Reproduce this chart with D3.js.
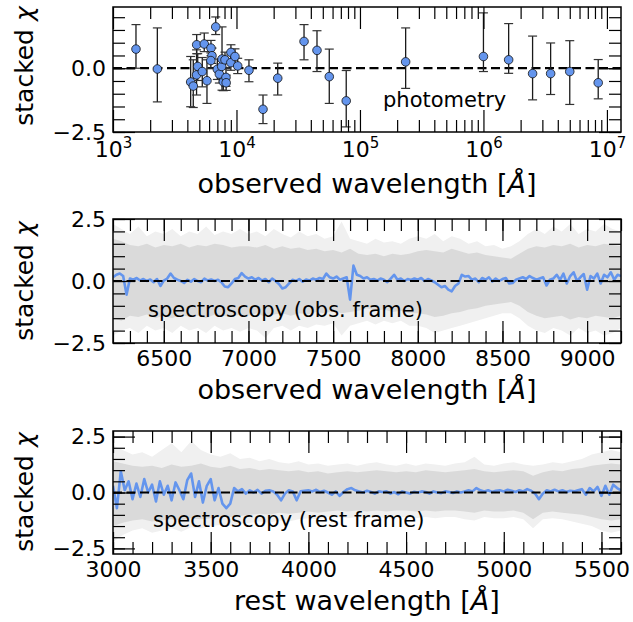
<!DOCTYPE html>
<html>
<head>
<meta charset="utf-8">
<script src="https://cdn.jsdelivr.net/npm/d3@7"></script>
<style>
body { margin: 0; background: #fff; }
text { font-family: "DejaVu Sans", sans-serif; }
</style>
</head>
<body>
<div id="chart"></div>
<script>
// photometry: wavelength [A], stacked chi, lower / upper error
var photWave = [1535, 2286, 4256, 4467, 4761, 4750, 4853, 5284, 5483, 5768, 6216, 6334, 6200, 6792, 6998, 7266, 7590, 7636, 7822, 8072, 8222, 8250, 9018, 9000, 9720, 10230, 12620, 16400, 21580, 35240, 44870, 56420, 77400, 234400, 1.0e6, 1.6e6, 2.5e6, 3.5e6, 5.0e6, 8.5e6];
var photChi = [0.75, -0.03, -0.54, -0.70, 0.92, -0.26, 0.07, -0.13, 0.95, -0.49, 0.79, 0.49, 0.30, 1.62, -0.04, -0.23, 0.07, 0.36, -0.53, 0.33, -0.36, -0.57, 0.62, 0.22, 0.46, 0.09, -0.08, -1.61, -0.39, 1.05, 0.70, -0.33, -1.28, 0.25, 0.46, 0.33, -0.21, -0.21, -0.13, -0.57];
var photErrLo = [0.75, 1.29, 0.97, 0.84, 0.35, 0.79, 0.55, 0.6, 0.3, 0.89, 0.3, 0.3, 0.3, 0.3, 0.4, 0.35, 0.3, 1.22, 0.35, 0.3, 0.35, 0.3, 0.42, 0.3, 0.3, 0.3, 0.45, 0.56, 0.66, 0.72, 0.83, 1.05, 1.02, 1.04, 0.59, 0.53, 1.03, 0.82, 1.29, 0.63];
var photErrHi = [0.96, 1.61, 1.0, 1.03, 0.4, 0.98, 0.5, 0.55, 0.43, 0.82, 0.3, 0.3, 0.3, 0.39, 0.4, 0.3, 0.3, 1.26, 0.3, 0.3, 0.35, 0.3, 0.3, 0.3, 0.3, 0.3, 0.41, 0.56, 0.59, 0.66, 0.77, 1.08, 1.19, 1.33, 1.71, 1.42, 1.47, 1.2, 1.21, 0.91];

// observed-frame spectrum, 20 A grid from 6200 to 9200
var obsWave = d3.range(6200, 9201, 20);
var obsChi = [
  0.15, 0.25, 0.3, 0.2, -0.55, 0.1, 0.05, 0.12, 0.02, 0.08,
  0.0, 0.06, -0.05, 0.08, -0.2, 0.02, 0.1, 0.3, 0.12, 0.05,
  0.0, -0.08, 0.05, -0.03, 0.08, 0.0, -0.05, 0.1, 0.02, 0.06,
  0.0, 0.05, -0.05, -0.22, -0.25, -0.1, 0.08, 0.12, 0.32, 0.18,
  0.1, 0.15, 0.05, 0.12, 0.02, 0.08, -0.05, 0.1, 0.0, -0.12,
  -0.3, -0.25, -0.1, 0.05, 0.0, 0.08, -0.03, 0.06, 0.02, 0.1,
  0.05, 0.12, 0.08, 0.3, 0.15, 0.1, 0.18, 0.05, 0.1, 0.15,
  -0.75, 0.62, 0.25, 0.2, 0.1, 0.15, 0.05, 0.08, 0.02, 0.1,
  0.05, -0.05, 0.1, 0.25, 0.05, 0.1, 0.0, 0.08, 0.04, 0.1,
  0.05, 0.12, 0.0, 0.08, 0.02, -0.05, -0.15, -0.25, -0.2, -0.35,
  -0.42, -0.2, -0.1, 0.25, 0.18, 0.2, 0.05, 0.1, -0.05, 0.12,
  0.05, 0.15, -0.02, 0.1, 0.0, 0.08, 0.12, -0.1, -0.08, 0.05,
  0.1, 0.15, 0.08, 0.2, 0.12, 0.05, 0.1, 0.15, -0.18, 0.05,
  0.1, 0.25, 0.05, 0.3, -0.1, 0.2, 0.35, 0.0, 0.15, 0.28,
  -0.35, 0.2, 0.1, 0.3, -0.1, 0.25, 0.15, 0.35, 0.05, 0.25, 0.2
];
// spread of the stack, 50 A grid
var obsBandWave = d3.range(6200, 9201, 50);
var obsInnerHi = [1.7, 1.6, 1.45, 1.4, 1.5, 1.35,
  1.45, 1.4, 1.5, 1.35, 1.45, 1.4, 1.5, 1.45, 1.35, 1.4,
  1.4, 1.35, 1.45, 1.3, 1.4, 1.3, 1.35, 1.25, 1.3, 1.2,
  1.25, 1.15, 1.3, 1.1, 1.05, 1.1, 1.0, 1.1, 1.05, 1.1,
  1.2, 1.25, 1.2, 1.15, 1.3, 1.2, 1.1, 1.15, 1.05, 1.0,
  0.95, 0.9, 1.1, 1.3,
  1.4, 1.35, 1.45, 1.4, 1.5, 1.35, 1.45, 1.4, 1.5, 1.45, 1.4];
var obsInnerLo = [-1.5, -1.6, -1.4, -1.45, -1.35, -1.5,
  -1.4, -1.5, -1.35, -1.45, -1.4, -1.5, -1.35, -1.4, -1.45, -1.35,
  -1.4, -1.3, -1.45, -1.35, -1.3, -1.4, -1.3, -1.35, -1.25, -1.3,
  -1.2, -1.3, -1.25, -1.2, -1.1, -1.2, -1.15, -1.25, -1.2, -1.3,
  -1.3, -1.35, -1.45, -1.4, -1.3, -1.25, -1.15, -1.1, -1.0, -0.95,
  -0.9, -0.85, -1.0, -1.25,
  -1.4, -1.5, -1.45, -1.4, -1.55, -1.45, -1.5, -1.4, -1.45, -1.5, -1.4];
var obsOuterHi = [2.3, 2.1, 1.9, 2.2, 1.8, 2.0,
  1.9, 2.1, 1.8, 2.0, 1.9, 2.2, 1.85, 2.0, 1.9, 2.1,
  1.9, 2.0, 1.8, 2.1, 1.9, 1.75, 2.0, 1.8, 1.9, 1.7,
  1.8, 2.4, 1.7, 1.6, 1.5, 1.7, 1.55, 1.6, 1.5, 1.7,
  1.8, 1.7, 1.9, 1.6, 1.8, 1.7, 1.5, 1.6, 1.4, 1.45,
  1.3, 1.4, 1.6, 1.9,
  2.1, 1.9, 2.2, 2.0, 2.3, 1.9, 2.1, 2.0, 2.3, 2.1, 2.0];
var obsOuterLo = [-2.2, -2.0, -1.9, -2.1, -1.8, -2.0,
  -1.9, -2.1, -1.8, -2.0, -1.9, -2.1, -1.8, -2.0, -1.9, -2.05,
  -1.9, -2.0, -2.3, -1.9, -1.8, -2.0, -1.8, -1.9, -1.75, -1.8,
  -1.7, -2.2, -1.8, -1.7, -1.6, -1.75, -1.6, -1.7, -1.6, -1.8,
  -1.8, -1.9, -2.1, -2.0, -1.9, -1.8, -1.7, -1.6, -1.5, -1.4,
  -1.3, -1.3, -1.5, -1.8,
  -2.0, -2.1, -1.9, -2.0, -2.2, -1.9, -2.1, -2.0, -2.2, -2.1, -1.9];

// rest-frame spectrum, 20 A grid from 3000 to 5600
var restWave = d3.range(3000, 5601, 20);
var restChi = [
  0.3, -0.7, 0.95, 0.1, 0.5, -0.3, 0.4, -0.2, 0.6, 0.0,
  0.35, -0.4, 0.5, -0.1, 0.3, -0.35, 0.45, 0.1, -0.3, 0.55,
  0.85, -0.2, 0.5, -0.45, 0.3, 0.6, -0.35, 0.2, -0.5, -0.7,
  -0.5, 0.2, 0.05, 0.15, -0.05, 0.1, 0.0, 0.12, -0.05, 0.08,
  0.1, 0.05, -0.1, -0.35, -0.05, 0.1, 0.05, -0.35, 0.05, 0.08,
  0.1, 0.05, 0.12, 0.02, 0.08, 0.0, -0.1, 0.05, -0.15, 0.02,
  0.15, 0.2, 0.1, 0.05, 0.0, 0.08, 0.02, -0.05, 0.05, 0.02,
  0.05, -0.05, 0.02, -0.08, 0.05, 0.0, -0.05, 0.03, 0.0, 0.05,
  0.02, -0.05, 0.05, 0.0, -0.03, 0.05, 0.02, -0.02, 0.05, 0.0,
  0.05, 0.1, 0.05, 0.2, 0.1, 0.05, 0.1, 0.02, 0.08, 0.1,
  0.05, 0.12, 0.08, 0.02, 0.1, 0.05, 0.15, 0.08, -0.05, -0.3,
  -0.05, 0.1, 0.05, 0.12, 0.05, 0.1, 0.02, 0.08, 0.05, 0.1,
  0.15, -0.1, 0.2, 0.05, 0.25, -0.15, 0.3, -0.1, 0.35, 0.2,
  0.1
];
var restBandWave = d3.range(3000, 5601, 50);
var restInnerHi = [1.4, 1.3, 1.2, 1.15, 1.2, 1.1, 1.25, 1.15, 1.2, 1.3,
  1.15, 1.1, 1.2, 1.05, 1.1, 1.0, 1.05, 1.0, 0.95, 1.0,
  0.9, 0.95, 0.85, 0.9, 0.95, 0.9, 0.95, 1.0, 0.95, 0.9,
  0.95, 0.9, 1.0, 0.95, 0.9, 0.95, 1.0, 1.05, 0.95, 0.9,
  0.95, 1.0, 0.95, 0.75, 0.9, 1.0, 0.95, 1.05, 1.1, 1.2,
  1.25, 1.3, 1.25];
var restInnerLo = [-1.5, -1.35, -1.25, -1.2, -1.3, -1.25, -1.2, -1.25, -1.15, -1.2,
  -1.15, -1.1, -1.1, -1.05, -1.0, -0.95, -1.0, -0.9, -0.95, -0.9,
  -0.85, -0.9, -0.85, -0.8, -0.85, -0.8, -0.85, -0.8, -0.85, -0.8,
  -0.8, -0.85, -0.8, -0.85, -0.8, -0.8, -0.85, -0.9, -0.8, -0.85,
  -0.85, -0.8, -0.9, -1.2, -0.9, -0.85, -0.9, -0.95, -1.0, -1.1,
  -1.2, -1.25, -1.2];
var restOuterHi = [2.1, 1.9, 1.7, 1.8, 1.6, 1.9, 2.2, 1.8, 2.3, 1.9,
  1.7, 1.6, 1.75, 1.5, 1.55, 1.4, 1.5, 1.35, 1.3, 1.4,
  1.25, 1.3, 1.2, 1.25, 1.3, 1.2, 1.3, 1.35, 1.25, 1.2,
  1.3, 1.2, 1.3, 1.25, 1.2, 1.3, 1.35, 1.6, 1.25, 1.2,
  1.3, 1.35, 1.25, 1.2, 1.25, 1.35, 1.3, 1.4, 1.5, 1.7,
  1.8, 1.9, 1.8];
var restOuterLo = [-2.2, -1.9, -1.7, -1.6, -1.8, -1.7, -1.6, -1.75, -1.55, -1.6,
  -1.5, -1.45, -1.5, -1.4, -1.35, -1.3, -1.35, -1.25, -1.3, -1.2,
  -1.15, -1.2, -1.1, -1.1, -1.15, -1.1, -1.15, -1.1, -1.15, -1.1,
  -1.1, -1.15, -1.1, -1.15, -1.1, -1.1, -1.2, -1.25, -1.1, -1.15,
  -1.15, -1.1, -1.2, -1.6, -1.2, -1.15, -1.2, -1.3, -1.4, -1.5,
  -1.7, -1.8, -1.7];

// tick values
var logMajor = [1e3, 1e4, 1e5, 1e6, 1e7];
var logMinor = [];
logMajor.forEach(function(d) { for (var k = 2; k < 10; k++) logMinor.push(d * k); });
var obsMajor = [6500, 7000, 7500, 8000, 8500, 9000];
var obsMinor = d3.range(6200, 9201, 100);
var restMajor = [3000, 3500, 4000, 4500, 5000, 5500];
var restMinor = d3.range(3000, 5601, 100);
var chiMajor = [-2.5, 0, 2.5];
var chiMinor = d3.range(-2.5, 2.51, 0.5);

var W = 633, H = 622;
var left = 113, right = 621;
var blue = "#6495ed";

var svg = d3.select("#chart").append("svg")
    .attr("width", W)
    .attr("height", H);

// scales
var xTop = d3.scaleLog().domain([1000, 1.3e7]).range([left, right]);
var yTop = d3.scaleLinear().domain([-2.5, 2.4]).range([132, 7]);
var xMid = d3.scaleLinear().domain([6200, 9200]).range([left, right]);
var yMid = d3.scaleLinear().domain([-2.5, 2.5]).range([343, 219]);
var xBot = d3.scaleLinear().domain([3000, 5600]).range([left, right]);
var yBot = d3.scaleLinear().domain([-2.75, 2.75]).range([554, 431]);

function inDomain(s, vals) {
    var d = s.domain();
    return vals.filter(function(v) { return v >= d[0] - 1e-9 && v <= d[1] + 1e-9; });
}

function styleAxis(sel) {
    sel.attr("font-size", 22).attr("font-family", "DejaVu Sans");
    sel.select(".domain").remove();
    sel.selectAll(".tick line").attr("stroke-width", 1.2);
    sel.selectAll(".tick text").attr("fill", "#000");
}

function drawAxes(top, bottom, x, y, xMajor, xMinor, xFmt, xPad) {
    var g = svg.append("g");
    var yMaj = inDomain(y, chiMajor), yMin = inDomain(y, chiMinor);
    xMajor = inDomain(x, xMajor);
    xMinor = inDomain(x, xMinor);

    g.append("g").attr("transform", "translate(0," + bottom + ")")
        .call(d3.axisBottom(x).tickValues(xMinor).tickSize(-12).tickFormat(""))
        .call(styleAxis);
    var bx = g.append("g").attr("transform", "translate(0," + bottom + ")")
        .call(d3.axisBottom(x).tickValues(xMajor).tickSize(-22).tickPadding(xPad).tickFormat(xFmt))
        .call(styleAxis);
    g.append("g").attr("transform", "translate(0," + top + ")")
        .call(d3.axisTop(x).tickValues(xMinor).tickSize(-12).tickFormat(""))
        .call(styleAxis);
    g.append("g").attr("transform", "translate(0," + top + ")")
        .call(d3.axisTop(x).tickValues(xMajor).tickSize(-22).tickFormat(""))
        .call(styleAxis);

    g.append("g").attr("transform", "translate(" + left + ",0)")
        .call(d3.axisLeft(y).tickValues(yMin).tickSize(-12).tickFormat(""))
        .call(styleAxis);
    g.append("g").attr("transform", "translate(" + left + ",0)")
        .call(d3.axisLeft(y).tickValues(yMaj).tickSize(-22).tickPadding(7).tickFormat(d3.format(".1f")))
        .call(styleAxis);
    g.append("g").attr("transform", "translate(" + right + ",0)")
        .call(d3.axisRight(y).tickValues(yMin).tickSize(-12).tickFormat(""))
        .call(styleAxis);
    g.append("g").attr("transform", "translate(" + right + ",0)")
        .call(d3.axisRight(y).tickValues(yMaj).tickSize(-22).tickFormat(""))
        .call(styleAxis);

    g.append("rect")
        .attr("x", left).attr("y", top)
        .attr("width", right - left).attr("height", bottom - top)
        .attr("fill", "none").attr("stroke", "#000").attr("stroke-width", 1.5);
    return bx;
}

function clipFor(id, top, bottom) {
    svg.append("clipPath").attr("id", id).append("rect")
        .attr("x", left).attr("y", top)
        .attr("width", right - left).attr("height", bottom - top);
    return svg.append("g").attr("clip-path", "url(#" + id + ")");
}

function zeroLine(g, y) {
    g.append("line")
        .attr("x1", left).attr("x2", right)
        .attr("y1", y(0)).attr("y2", y(0))
        .attr("stroke", "#000").attr("stroke-width", 2.2)
        .attr("stroke-dasharray", "9,4.5");
}

function yLabel(cy) {
    var t = svg.append("text")
        .attr("transform", "translate(33," + cy + ") rotate(-90)")
        .attr("text-anchor", "middle")
        .attr("font-size", 25)
        .text("stacked ");
    t.append("tspan").attr("font-style", "italic").text("\u03c7");
}

function xLabel(y, txt) {
    var t = svg.append("text")
        .attr("x", (left + right) / 2).attr("y", y)
        .attr("text-anchor", "middle")
        .attr("font-size", 27)
        .text(txt + " [");
    t.append("tspan").attr("font-style", "italic").text("\u00c5");
    t.append("tspan").text("]");
}

// ---------- photometry panel ----------
var gTop = clipFor("clipTop", 7, 132);
zeroLine(gTop, yTop);
var phot = photWave.map(function(w, i) {
    return { w: w, v: photChi[i], lo: photChi[i] - photErrLo[i], hi: photChi[i] + photErrHi[i] };
});
gTop.selectAll(".ebar").data(phot).enter().append("line")
    .attr("x1", function(d) { return xTop(d.w); })
    .attr("x2", function(d) { return xTop(d.w); })
    .attr("y1", function(d) { return yTop(d.lo); })
    .attr("y2", function(d) { return yTop(d.hi); })
    .attr("stroke", "#1a1a1a").attr("stroke-width", 1.3);
["lo", "hi"].forEach(function(k) {
    gTop.selectAll(".cap" + k).data(phot).enter().append("line")
        .attr("x1", function(d) { return xTop(d.w) - 4.5; })
        .attr("x2", function(d) { return xTop(d.w) + 4.5; })
        .attr("y1", function(d) { return yTop(d[k]); })
        .attr("y2", function(d) { return yTop(d[k]); })
        .attr("stroke", "#333").attr("stroke-width", 1.2);
});
gTop.selectAll(".pt").data(phot).enter().append("circle")
    .attr("cx", function(d) { return xTop(d.w); })
    .attr("cy", function(d) { return yTop(d.v); })
    .attr("r", 4.3)
    .attr("fill", blue).attr("stroke", "#111").attr("stroke-width", 0.8);
svg.append("text").attr("x", 383).attr("y", 107).attr("font-size", 21).text("photometry");

var topAx = drawAxes(7, 132, xTop, yTop, logMajor, logMinor, function() { return ""; }, 9);
topAx.selectAll(".tick text").each(function(d) {
    var t = d3.select(this);
    t.append("tspan").text("10");
    t.append("tspan").attr("dy", -9).attr("font-size", 15).text(Math.round(Math.log10(d)));
});
xLabel(193, "observed wavelength");
yLabel(66);

// ---------- spectrum panels ----------
function spectrum(id, top, bottom, x, y, bw, ih, il, oh, ol, wave, chi) {
    var g = clipFor(id, top, bottom);
    var bandO = d3.area()
        .x(function(d, i) { return x(bw[i]); })
        .y0(function(d, i) { return y(ol[i]); })
        .y1(function(d, i) { return y(oh[i]); });
    var bandI = d3.area()
        .x(function(d, i) { return x(bw[i]); })
        .y0(function(d, i) { return y(il[i]); })
        .y1(function(d, i) { return y(ih[i]); });
    g.append("path").datum(bw).attr("d", bandO).attr("fill", "#f0f0f0");
    g.append("path").datum(bw).attr("d", bandI).attr("fill", "#dadada");
    var ln = d3.line()
        .x(function(d, i) { return x(wave[i]); })
        .y(function(d) { return y(d); });
    g.append("path").datum(chi)
        .attr("d", ln)
        .attr("fill", "none").attr("stroke", blue)
        .attr("stroke-width", 2.6).attr("stroke-linejoin", "round");
    zeroLine(g, y);
}

spectrum("clipMid", 219, 343, xMid, yMid, obsBandWave, obsInnerHi, obsInnerLo, obsOuterHi, obsOuterLo, obsWave, obsChi);
svg.append("text").attr("x", 148).attr("y", 317).attr("font-size", 21).text("spectroscopy (obs. frame)");
drawAxes(219, 343, xMid, yMid, obsMajor, obsMinor, d3.format("d"), 7);
xLabel(399, "observed wavelength");
yLabel(281);

spectrum("clipBot", 431, 554, xBot, yBot, restBandWave, restInnerHi, restInnerLo, restOuterHi, restOuterLo, restWave, restChi);
svg.append("text").attr("x", 153).attr("y", 527).attr("font-size", 21).text("spectroscopy (rest frame)");
drawAxes(431, 554, xBot, yBot, restMajor, restMinor, d3.format("d"), 7);
xLabel(610, "rest wavelength");
yLabel(492);
</script>
</body>
</html>
